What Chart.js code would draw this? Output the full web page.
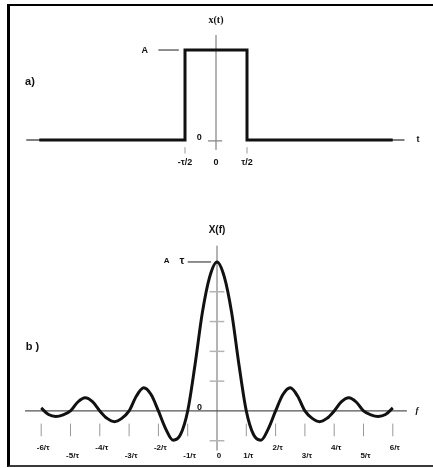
<!DOCTYPE html>
<html><head><meta charset="utf-8">
<script src="https://cdn.jsdelivr.net/npm/chart.js@4"></script>
<style>
html,body{margin:0;padding:0;background:#fff;overflow:hidden;}
#wrap{position:relative;width:433px;height:468px;overflow:hidden;background:#fff;}
#frame{position:absolute;left:7px;top:4px;width:423px;height:459px;border-left:3px solid #000;border-top:2px solid #000;border-bottom:2px solid #3a3a3a;}
.box{position:absolute;left:0;width:433px;}
</style></head><body>
<div id="wrap">
<div id="frame"></div>
<div class="box" style="top:0;height:200px"><canvas id="c1"></canvas></div>
<div class="box" style="top:200px;height:268px"><canvas id="c2"></canvas></div>
</div>
<script>
// ---- Panel a: rectangular pulse x(t), t in units of tau ----
const timeValues   = [-2.85, -0.5, -0.5, 0.5, 0.5, 2.85];
const pulseValues  = [0, 0, 1, 1, 0, 0];
const timeTicks    = [-0.5, 0, 0.5];
const timeTickLabels = ['-τ/2', '0', 'τ/2'];

// ---- Panel b: spectrum X(f), f in units of 1/tau ----
const freqValues = [-6,-5.75,-5.5,-5.25,-5,-4.75,-4.5,-4.25,-4,-3.75,-3.5,-3.25,-3,-2.75,-2.5,-2.25,-2,-1.75,-1.5,-1.25,-1,-0.75,-0.5,-0.25,0,
                    0.25,0.5,0.75,1,1.25,1.5,1.75,2,2.25,2.5,2.75,3,3.25,3.5,3.75,4,4.25,4.5,4.75,5,5.25,5.5,5.75,6];
const spectrumValues = [0.02,-0.024,-0.037,-0.026,0,0.06,0.088,0.062,0,-0.05,-0.072,-0.05,0,0.10,0.155,0.11,0,-0.12,-0.196,-0.16,0,0.31,0.66,0.90,1.0,
                    0.90,0.66,0.31,0,-0.16,-0.196,-0.12,0,0.11,0.155,0.10,0,-0.05,-0.072,-0.05,0,0.062,0.088,0.06,0,-0.026,-0.037,-0.024,0.02];
const freqTicks = [-6,-5,-4,-3,-2,-1,0,1,2,3,4,5,6];
const freqTickLabels = ['-6/τ','-5/τ','-4/τ','-3/τ','-2/τ','-1/τ','0','1/τ','2/τ','3/τ','4/τ','5/τ','6/τ'];
const freqLabelLow = [false,true,false,true,false,true,true,true,false,true,false,true,false];
const yTicksB = [-0.2, 0.2, 0.4, 0.6, 0.8];

const FONT = 'bold 9px "Liberation Sans", "DejaVu Sans", sans-serif';

function seg(ctx, x1, y1, x2, y2){ ctx.beginPath(); ctx.moveTo(x1,y1); ctx.lineTo(x2,y2); ctx.stroke(); }
function txt(ctx, s, x, y, font, align){ ctx.font = font || FONT; ctx.textAlign = align || 'center'; ctx.textBaseline = 'middle'; ctx.fillStyle = '#111'; ctx.fillText(s, x, y); }

const decoA = {
  id: 'decoA',
  beforeDatasetsDraw(chart){
    const {ctx, scales:{x, y}} = chart;
    const X = v => x.getPixelForValue(v), Y = v => y.getPixelForValue(v);
    ctx.save();
    ctx.lineCap = 'butt';
    // vertical axis
    ctx.strokeStyle = '#b4b4b4'; ctx.lineWidth = 2;
    seg(ctx, X(0), Y(1.167), X(0), Y(-0.11));
    // horizontal axis
    ctx.strokeStyle = '#555'; ctx.lineWidth = 1.3;
    seg(ctx, X(-3.06), Y(0), X(-0.5), Y(0));
    seg(ctx, X(0.5), Y(0), X(3.04), Y(0));
    ctx.strokeStyle = '#888';
    seg(ctx, X(-0.13), Y(-0.01), X(0.1), Y(-0.01));
    // tick marks
    ctx.strokeStyle = '#999'; ctx.lineWidth = 1;
    [-0.5, 0.5].forEach(t => seg(ctx, X(t), Y(-0.08), X(t), Y(-0.15)));
    // A level dash
    ctx.strokeStyle = '#444'; ctx.lineWidth = 1.2;
    seg(ctx, X(-0.93), Y(1), X(-0.6), Y(1));
    // labels
    txt(ctx, 'A', X(-1.15), Y(1));
    txt(ctx, 'x(t)', X(0), Y(1.333), 'bold 10px "Liberation Serif", "DejaVu Serif", serif');
    txt(ctx, '0', X(-0.27), Y(0.025));
    txt(ctx, 'a)', X(-3.0), Y(0.644), 'bold 11px "Liberation Sans", sans-serif');
    txt(ctx, 't', X(3.26), Y(0));
    timeTicks.forEach((t, i) => txt(ctx, timeTickLabels[i], X(t), Y(-0.245)));
    ctx.restore();
  }
};

const decoB = {
  id: 'decoB',
  beforeDatasetsDraw(chart){
    const {ctx, scales:{x, y}} = chart;
    const X = v => x.getPixelForValue(v), Y = v => y.getPixelForValue(v);
    ctx.save();
    // vertical axis
    ctx.strokeStyle = '#b4b4b4'; ctx.lineWidth = 2;
    seg(ctx, X(0), Y(1.11), X(0), Y(-0.265));
    ctx.lineWidth = 1.5;
    yTicksB.forEach(v => seg(ctx, X(-0.25), Y(v), X(0.25), Y(v)));
    // horizontal axis
    ctx.strokeStyle = '#555'; ctx.lineWidth = 1.3;
    seg(ctx, X(-6.55), Y(0), X(6.48), Y(0));
    // tick marks
    ctx.strokeStyle = '#999'; ctx.lineWidth = 1;
    freqTicks.forEach(f => { if (f !== 0) seg(ctx, X(f), Y(-0.085), X(f), Y(-0.17)); });
    // A tau dash
    ctx.strokeStyle = '#444'; ctx.lineWidth = 1.2;
    seg(ctx, X(-1.0), Y(1), X(-0.2), Y(1));
    // labels
    txt(ctx, 'A', X(-1.72), Y(1.007), 'bold 8px "Liberation Sans", sans-serif');
    txt(ctx, 'τ', X(-1.2), Y(1.007), 'bold 11px "Liberation Sans", sans-serif');
    txt(ctx, 'X(f)', X(0), Y(1.216), 'bold 10px "Liberation Sans", sans-serif');
    txt(ctx, '0', X(-0.6), Y(0.02));
    txt(ctx, 'b )', X(-6.3), Y(0.432), 'bold 11px "Liberation Sans", sans-serif');
    txt(ctx, 'f', X(6.83), Y(0), 'italic bold 9px "Liberation Serif", serif');
    freqTicks.forEach((f, i) => txt(ctx, freqTickLabels[i], X(f) + 2, Y(freqLabelLow[i] ? -0.30 : -0.245), 'bold 8px "Liberation Sans", sans-serif'));
    ctx.restore();
  }
};

const hidden = {display: false};

new Chart(document.getElementById('c1'), {
  type: 'line',
  data: { datasets: [{
    data: timeValues.map((t, i) => ({x: t, y: pulseValues[i]})),
    borderColor: '#111', borderWidth: 3, pointRadius: 0, tension: 0,
    borderJoinStyle: 'miter', fill: false
  }]},
  options: {
    responsive: true, maintainAspectRatio: false, animation: false,
    layout: {padding: 0},
    plugins: {legend: hidden, tooltip: {enabled: false}},
    scales: {
      x: {type: 'linear', min: -3.484, max: 3.5, display: false},
      y: {type: 'linear', min: -0.667, max: 1.556, display: false}
    }
  },
  plugins: [decoA]
});

new Chart(document.getElementById('c2'), {
  type: 'line',
  data: { datasets: [{
    data: freqValues.map((f, i) => ({x: f, y: spectrumValues[i]})),
    borderColor: '#111', borderWidth: 3, pointRadius: 0,
    cubicInterpolationMode: 'monotone', fill: false
  }]},
  options: {
    responsive: true, maintainAspectRatio: false, animation: false,
    layout: {padding: 0},
    plugins: {legend: hidden, tooltip: {enabled: false}},
    scales: {
      x: {type: 'linear', min: -7.406, max: 7.372, display: false},
      y: {type: 'linear', min: -0.383, max: 1.416, display: false}
    }
  },
  plugins: [decoB]
});
</script>
</body></html>
